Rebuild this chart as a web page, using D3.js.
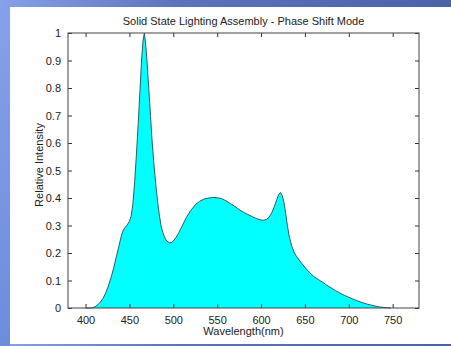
<!DOCTYPE html>
<html><head><meta charset="utf-8">
<script src="https://cdn.jsdelivr.net/npm/d3@7"></script>
<style>
html,body{margin:0;padding:0;}
body{width:451px;height:346px;overflow:hidden;}
text{font-family:"Liberation Sans",Arial,sans-serif;}
</style></head>
<body><svg id="c" width="451" height="346"></svg>
<script>
const title = "Solid State Lighting Assembly - Phase Shift Mode";
const xLabel = "Wavelength(nm)";
const yLabel = "Relative Intensity";
const xTicks = [400,450,500,550,600,650,700,750];
const yTicks = [0,0.1,0.2,0.3,0.4,0.5,0.6,0.7,0.8,0.9,1];
const wavelength = [400,405,408,411,414,417,420,423,426,429,432,435,438,441,443,445,447,450,452,454,456,458,460,462,464,465.5,467,468.5,470,472,474,476,478,480,482,484,486,488,490,492,494,496,498,500,503,506,510,515,520,525,530,535,540,545,550,555,560,565,570,575,580,585,590,595,600,603,606,609,612,615,618,620,622,624,626,628,630,632,635,638,641,645,650,655,660,665,670,675,680,685,690,695,700,705,710,715,720,725,730,735,740,744,748];
const intensity = [0,0,0.001,0.005,0.012,0.022,0.035,0.055,0.08,0.11,0.145,0.185,0.225,0.265,0.283,0.293,0.30,0.315,0.335,0.38,0.46,0.56,0.67,0.79,0.91,0.97,1.0,0.96,0.9,0.8,0.7,0.6,0.52,0.45,0.39,0.34,0.30,0.275,0.258,0.246,0.24,0.237,0.238,0.244,0.256,0.272,0.298,0.33,0.355,0.375,0.388,0.396,0.40,0.402,0.401,0.398,0.39,0.38,0.37,0.358,0.348,0.34,0.332,0.325,0.32,0.319,0.322,0.33,0.345,0.368,0.395,0.412,0.42,0.41,0.385,0.345,0.3,0.262,0.225,0.2,0.185,0.168,0.148,0.13,0.115,0.104,0.094,0.083,0.073,0.063,0.054,0.046,0.039,0.032,0.026,0.02,0.015,0.011,0.007,0.004,0.002,0.001,0];

const svg = d3.select("#c");
const defs = svg.append("defs");
const g1 = defs.append("linearGradient").attr("id","bg").attr("x1","0").attr("y1","0").attr("x2","1").attr("y2","0");
g1.append("stop").attr("offset","0").attr("stop-color","#86a0ea");
g1.append("stop").attr("offset","0.4").attr("stop-color","#5b73bb");
g1.append("stop").attr("offset","1").attr("stop-color","#4a62a6");
svg.append("rect").attr("width",451).attr("height",346).attr("fill","url(#bg)");
const g2 = defs.append("linearGradient").attr("id","lb").attr("x1","0").attr("y1","0").attr("x2","0").attr("y2","1");
g2.append("stop").attr("offset","0").attr("stop-color","#86a0ea");
g2.append("stop").attr("offset","1").attr("stop-color","#6c8ddc");
svg.append("rect").attr("x",0).attr("y",7).attr("width",10).attr("height",339).attr("fill","url(#lb)");
svg.append("rect").attr("x",10).attr("y",7).attr("width",441).attr("height",337).attr("fill","#ffffff");

const L=68,R=419,T=33,B=308;
const x = d3.scaleLinear().domain([380,780]).range([L,R]);
const y = d3.scaleLinear().domain([0,1]).range([B,T]);
const data = wavelength.map((w,i)=>({w, v:intensity[i]}));

const area = d3.area().x(d=>x(d.w)).y0(y(0)).y1(d=>y(d.v)).curve(d3.curveLinear);
const line = d3.line().x(d=>x(d.w)).y(d=>y(d.v)).curve(d3.curveLinear);
svg.append("path").datum(data).attr("d",area).attr("fill","#00ffff");
svg.append("path").datum(data).attr("d",line).attr("fill","none").attr("stroke","#2b5f62").attr("stroke-width",1);

const ax = (sel)=>{sel.select(".domain").remove(); sel.selectAll("line").attr("stroke","#333"); sel.selectAll("text").attr("fill","#222").style("font-size","11px").style("font-family","'Liberation Sans',Arial,sans-serif");};
svg.append("g").attr("transform",`translate(0,${B})`).call(d3.axisBottom(x).tickValues(xTicks).tickSizeInner(-4).tickSizeOuter(0).tickPadding(8)).call(ax);
svg.append("g").attr("transform",`translate(0,${T})`).call(d3.axisTop(x).tickValues(xTicks).tickSizeInner(-4).tickSizeOuter(0).tickFormat("")).call(ax);
svg.append("g").attr("transform",`translate(${L},0)`).call(d3.axisLeft(y).tickValues(yTicks).tickSizeInner(-4).tickSizeOuter(0).tickPadding(7).tickFormat(d=>d===0?"0":d===1?"1":d3.format(".1f")(d))).call(ax);
svg.append("g").attr("transform",`translate(${R},0)`).call(d3.axisRight(y).tickValues(yTicks).tickSizeInner(-4).tickSizeOuter(0).tickFormat("")).call(ax);
svg.append("rect").attr("x",L).attr("y",T).attr("width",R-L).attr("height",B-T).attr("fill","none").attr("stroke","#444").attr("stroke-width",1);

svg.append("text").attr("x",(L+R)/2).attr("y",25).attr("text-anchor","middle").style("font-size","11px").attr("fill","#222").text(title);
svg.append("text").attr("x",(L+R)/2).attr("y",335).attr("text-anchor","middle").style("font-size","11px").attr("fill","#222").text(xLabel);
svg.append("text").attr("transform","translate(43,165) rotate(-90)").attr("text-anchor","middle").style("font-size","11px").attr("fill","#222").text(yLabel);
</script></body></html>
